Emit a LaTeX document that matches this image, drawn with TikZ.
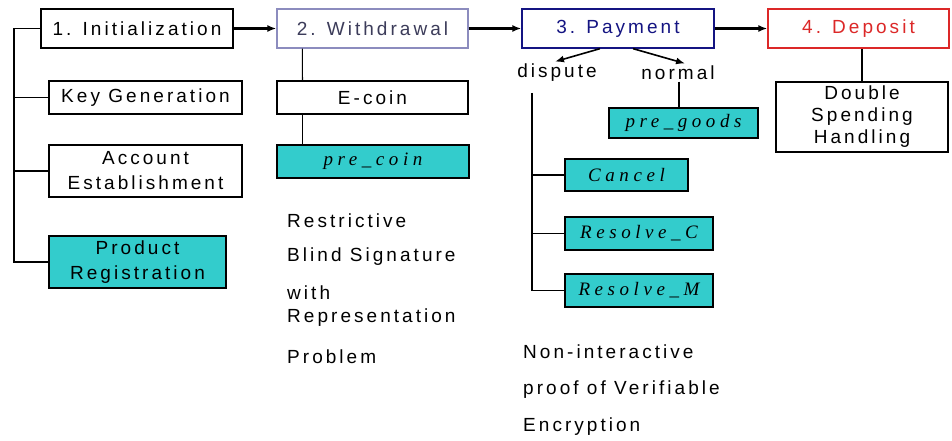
\documentclass[tikz,border=0pt]{standalone}
\usepackage{fontspec}
\usetikzlibrary{arrows.meta}
\setmainfont{Liberation Sans}[LetterSpace=16]
\newfontfamily\protofont{Liberation Serif}[LetterSpace=24]
\definecolor{prototeal}{RGB}{51,204,204}
\definecolor{wdframe}{RGB}{140,140,190}
\definecolor{wdtext}{RGB}{60,60,90}
\definecolor{payblue}{RGB}{20,20,130}
\definecolor{depred}{RGB}{220,40,40}
\tikzset{
  phase/.style={draw,line width=1.3pt,minimum height=39pt,inner sep=0pt},
  stepbox/.style={draw,line width=1.2pt,inner sep=0pt,align=center},
  protobox/.style={stepbox,fill=prototeal,font=\fontsize{19}{20}\protofont\itshape},
  note/.style={anchor=west,inner sep=0pt,align=left},
  link/.style={line width=1.2pt},
  flow/.style={line width=2.2pt,-{Latex[length=9pt,width=7pt]}},
  branch/.style={line width=1.6pt,-{Latex[length=9pt,width=7pt]}}
}
\begin{document}
\begin{tikzpicture}[x=1pt,y=-1pt,font=\fontsize{19}{25}\selectfont]
\useasboundingbox[fill=white] (0,0) rectangle (952,441);
\node[phase,minimum width=192pt] (init) at (137,28.5) {1. Initialization};
\node[phase,minimum width=191pt,draw=wdframe,text=wdtext] (withdraw) at (372.5,28.5) {2. Withdrawal};
\node[phase,minimum width=192pt,draw=payblue,text=payblue] (payment) at (618,28.5) {3. Payment};
\node[phase,minimum width=181pt,draw=depred,text=depred] (deposit) at (858.5,28.5) {4. Deposit};
\draw[flow] (init) -- (withdraw);
\draw[flow] (withdraw) -- (payment);
\draw[flow] (payment) -- (deposit);
\node[stepbox,minimum width=193pt,minimum height=33pt] (keygen) at (145.5,97.5) {Key Generation};
\node[stepbox,minimum width=193pt,minimum height=52pt] (account) at (145.5,171) {Account\\Establishment};
\node[stepbox,minimum width=177pt,minimum height=52pt,fill=prototeal] (product) at (137.5,262) {Product\\Registration};
\coordinate (itrunk) at (14,28.5);
\draw[link] (init.west) -- (itrunk) |- (product.west);
\draw[link] (itrunk |- keygen.west) -- (keygen.west);
\draw[link] (itrunk |- account.west) -- (account.west);
\node[stepbox,minimum width=191pt,minimum height=33pt] (ecoin) at (372.5,97.5) {E-coin};
\node[protobox,minimum width=192pt,minimum height=33pt] (precoin) at (373,161.5) {pre\_coin};
\draw[link] ([xshift=26pt]withdraw.south west) -- ([xshift=26pt]ecoin.north west);
\draw[link] ([xshift=26pt]ecoin.south west) -- ([xshift=26pt]ecoin.south west |- precoin.north);
\node[note] (restrictive) at (287,221) {Restrictive};
\node[note] (blindsig) at (287,257) {Blind Signature};
\node[note,font=\fontsize{19}{23}\selectfont] (withrep) at (287,306.5) {with\\Representation};
\node[note] (problem) at (287,357) {Problem};
\node (dispute) at (557,73) {dispute};
\node (normal) at (678,73) {normal};
\draw[branch] ([xshift=-18pt]payment.south) -- ([xshift=-2pt,yshift=-1pt]dispute.north);
\draw[branch] ([xshift=15pt]payment.south) -- ([xshift=7pt,yshift=-1pt]normal.north);
\node[protobox,minimum width=149pt,minimum height=30pt] (pregoods) at (683.5,123) {pre\_goods};
\draw[link] (normal.south) ++(1pt,2pt) coordinate (ntop) -- (ntop |- pregoods.north);
\node[protobox,minimum width=123pt,minimum height=32pt] (cancel) at (626.5,175) {Cancel};
\node[protobox,minimum width=148pt,minimum height=33pt] (resolvec) at (639,233.5) {Resolve\_C};
\node[protobox,minimum width=148pt,minimum height=33pt] (resolvem) at (639,290.5) {Resolve\_M};
\coordinate (dtop) at (532,93);
\draw[link] (dtop) |- (resolvem.west);
\draw[link] (dtop |- cancel.west) -- (cancel.west);
\draw[link] (dtop |- resolvec.west) -- (resolvec.west);
\node[note] (noninter) at (523,352) {Non-interactive};
\node[note] (proofof) at (523,390) {proof of Verifiable};
\node[note] (encrypt) at (523,427) {Encryption};
\node[stepbox,minimum width=172pt,minimum height=70pt,font=\fontsize{19}{22}\selectfont] (doublesp) at (862,117) {Double\\Spending\\Handling};
\draw[link] (doublesp.north) -- (doublesp.north |- deposit.south);
\end{tikzpicture}
\end{document}
